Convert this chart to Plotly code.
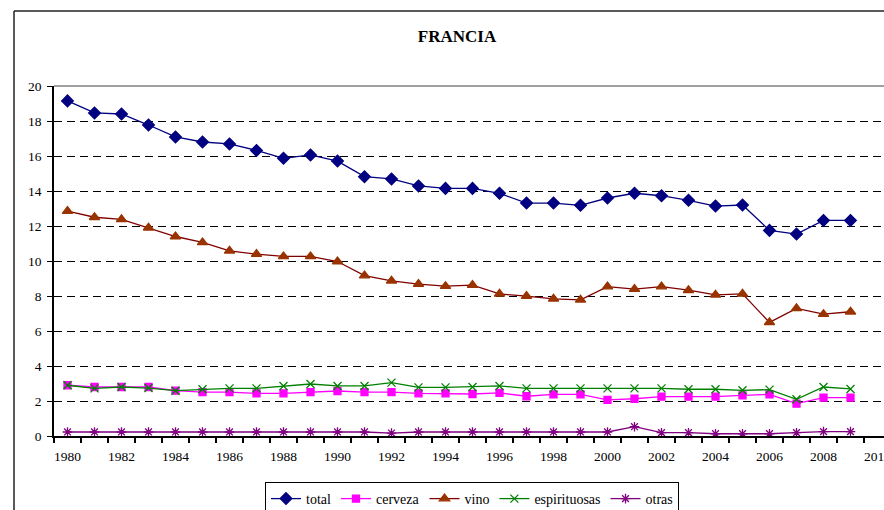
import plotly.graph_objects as go

years = [1980, 1981, 1982, 1983, 1984, 1985, 1986, 1987, 1988, 1989,
         1990, 1991, 1992, 1993, 1994, 1995, 1996, 1997, 1998, 1999,
         2000, 2001, 2002, 2003, 2004, 2005, 2006, 2007, 2008, 2009]

total = [19.15, 18.46, 18.4, 17.77, 17.09, 16.8, 16.69, 16.32, 15.87, 16.06,
         15.71, 14.82, 14.69, 14.29, 14.15, 14.15, 13.87, 13.31, 13.31, 13.18,
         13.6, 13.87, 13.73, 13.47, 13.14, 13.2, 11.75, 11.54, 12.32, 12.32]
cerveza = [2.9, 2.8, 2.8, 2.8, 2.59, 2.51, 2.51, 2.44, 2.44, 2.51,
           2.57, 2.51, 2.51, 2.44, 2.44, 2.4, 2.46, 2.27, 2.38, 2.38,
           2.06, 2.13, 2.25, 2.25, 2.25, 2.32, 2.38, 1.85, 2.19, 2.19]
vino = [12.85, 12.5, 12.38, 11.9, 11.4, 11.06, 10.58, 10.39, 10.26, 10.26,
        9.97, 9.17, 8.87, 8.68, 8.56, 8.62, 8.12, 7.99, 7.84, 7.78,
        8.54, 8.39, 8.54, 8.33, 8.07, 8.12, 6.49, 7.29, 6.96, 7.1]
espirituosas = [2.9, 2.72, 2.8, 2.74, 2.59, 2.67, 2.72, 2.72, 2.86, 2.97,
                2.86, 2.86, 3.05, 2.78, 2.78, 2.8, 2.86, 2.72, 2.72, 2.72,
                2.72, 2.72, 2.72, 2.67, 2.67, 2.61, 2.65, 2.1, 2.8, 2.69]
otras = [0.23, 0.23, 0.23, 0.23, 0.23, 0.23, 0.23, 0.23, 0.23, 0.23,
         0.23, 0.23, 0.17, 0.23, 0.23, 0.23, 0.23, 0.23, 0.23, 0.23,
         0.23, 0.53, 0.19, 0.19, 0.13, 0.13, 0.13, 0.19, 0.25, 0.25]

FONT = "Liberation Serif, Times New Roman, DejaVu Serif, serif"

series = [
    ("total", total, "#000080", "#000080", "diamond", 9),
    ("cerveza", cerveza, "#FF00FF", "#FF00FF", "square", 7),
    ("vino", vino, "#800000", "#993300", "triangle-up", 9),
    ("espirituosas", espirituosas, "#008000", "#008000", "x-thin-open", 8),
    ("otras", otras, "#800080", "#800080", "asterisk-open", 8),
]

fig = go.Figure()
for name, vals, lc, mc, sym, sz in series:
    fig.add_trace(go.Scatter(
        x=years, y=vals, name=name, mode="lines+markers",
        line=dict(color=lc, width=1.3),
        marker=dict(symbol=sym, size=sz, color=mc,
                    line=dict(color=mc, width=1.3)),
    ))

XRANGE = [1979.5, 1979.5 + 830 / 27]

fig.update_layout(
    width=884, height=510,
    margin=dict(l=54, r=0, t=86, b=74, autoexpand=False),
    paper_bgcolor="white", plot_bgcolor="white",
    font=dict(family=FONT, size=13, color="black"),
    title=dict(text="<b>FRANCIA</b>", x=457 / 884, xanchor="center",
               y=1 - 36 / 510, yanchor="middle",
               font=dict(family=FONT, size=17, color="black")),
    showlegend=True,
    legend=dict(orientation="h", x=(472 - 54) / 830, xanchor="center",
                y=(436 - 482) / 350, yanchor="top",
                bordercolor="black", borderwidth=1, bgcolor="white",
                font=dict(family=FONT, size=14, color="black"),
                itemwidth=30, tracegroupgap=0),
    # main axis: tick marks between the years, no labels
    xaxis=dict(
        range=XRANGE, tickmode="linear", tick0=1979.5, dtick=1,
        ticks="outside", ticklen=5, tickcolor="black", tickwidth=1.5,
        showticklabels=False, showgrid=False, zeroline=False,
        showline=True, linecolor="black", linewidth=1.5,
    ),
    # overlay axis: year labels every two years
    xaxis2=dict(
        range=XRANGE, overlaying="x", anchor="y", side="bottom",
        tickmode="linear", tick0=1980, dtick=2, ticks="",
        showgrid=False, zeroline=False, showline=False,
        ticklabeloverflow="allow", ticklabelstandoff=10,
        tickfont=dict(family=FONT, size=13.5, color="black"),
    ),
    yaxis=dict(
        range=[0, 20], tickmode="linear", tick0=0, dtick=2,
        ticks="outside", ticklen=5, tickcolor="black", tickwidth=1.2,
        showline=True, linecolor="black", linewidth=1.5, zeroline=False,
        ticklabelstandoff=3,
        showgrid=True, gridcolor="#000000", gridwidth=1, griddash="8px,5px",
        tickfont=dict(family=FONT, size=13.5, color="black"),
    ),
)
# invisible trace so the label axis is drawn
fig.add_trace(go.Scatter(x=[years[0]], y=[None], xaxis="x2", showlegend=False,
                         hoverinfo="skip", mode="lines"))

# plot area top border (solid gray)
fig.add_shape(type="line", xref="paper", yref="paper", x0=0, x1=1.01, y0=1, y1=1,
              line=dict(color="#808080", width=1.5))
# outer chart frame (left and top edges)
fx = (14 - 54) / 830
fy = (436 - 11) / 350
fig.add_shape(type="line", xref="paper", yref="paper", x0=fx, x1=1.1, y0=fy, y1=fy,
              line=dict(color="#222222", width=1.5))
fig.add_shape(type="line", xref="paper", yref="paper", x0=fx, x1=fx, y0=fy, y1=-0.3,
              line=dict(color="#222222", width=1.5))

fig.write_html("out.html", config={"displayModeBar": False},
               post_script="document.body.style.margin='0';document.body.style.overflow='hidden';")
